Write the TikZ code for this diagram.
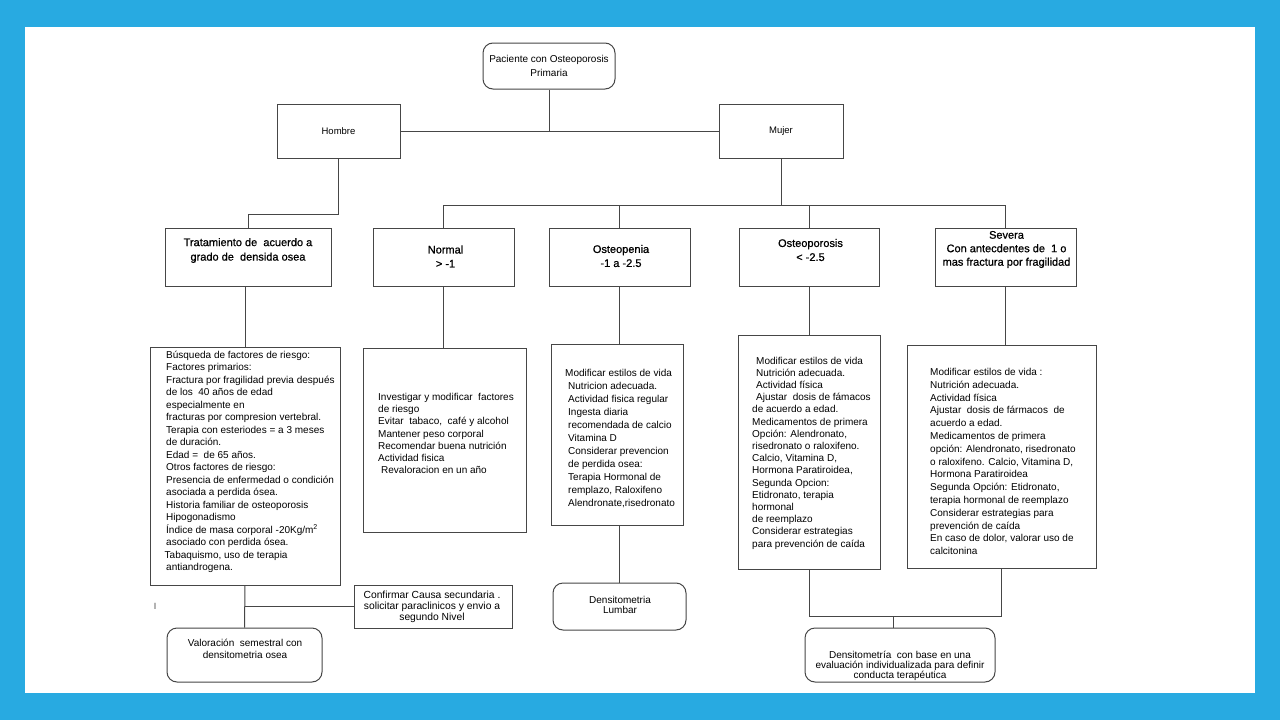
\documentclass[tikz,border=0pt]{standalone}
\usepackage{fontspec}
\setmainfont{Liberation Sans}
\newfontfamily\heavyfont{Liberation Sans}[FakeBold=0.8]
\definecolor{frameblue}{RGB}{40,170,225}
\definecolor{linegray}{RGB}{70,70,70}
\begin{document}
\begin{tikzpicture}[x=1pt,y=-1pt,
  box/.style={draw=linegray, line width=1pt, fill=white, inner sep=0pt},
  rbox/.style={box, rounded corners=10pt},
  conn/.style={draw=linegray, line width=1pt},
  lbl/.style={align=center, inner sep=0pt, font=\heavyfont\fontsize{11}{14}\selectfont},
  small/.style={align=center, inner sep=0pt, font=\fontsize{10}{12}\selectfont},
  body/.style={align=left, inner sep=0pt, anchor=west, font=\fontsize{10}{12}\selectfont}]
\fill[frameblue] (0,0) rectangle (1280,720);
\fill[white] (25,27) rectangle (1255,693);
\useasboundingbox (0,0) rectangle (1280,720);

% top level
\node[rbox, minimum width=132pt, minimum height=46pt, align=center,
      font=\fontsize{10}{14}\selectfont] (pac) at (549,66) {Paciente con Osteoporosis\\Primaria};
\node[box, minimum width=123pt, minimum height=54pt, font=\fontsize{9.5}{12}\selectfont] (hom) at (338.5,131) {\raisebox{-3pt}{Hombre}};
\node[box, minimum width=124pt, minimum height=54pt, font=\fontsize{9.5}{12}\selectfont] (muj) at (781,131) {\raisebox{-1pt}{Mujer}};

% second row boxes
\node[box, minimum width=166pt, minimum height=58pt] (trat) at (248,257) {};
\node[box, minimum width=141pt, minimum height=58pt] (norm) at (443.5,257) {};
\node[box, minimum width=141pt, minimum height=58pt] (open) at (619.5,257) {};
\node[box, minimum width=140pt, minimum height=58pt] (opor) at (809,257) {};
\node[box, minimum width=141pt, minimum height=58pt] (sev) at (1005.5,257) {};

\node[lbl, font=\heavyfont\fontsize{11}{14.5}\selectfont] (tratl) at (248,250.5) {Tratamiento de\ \ acuerdo a\\grado de\ \ densida osea};
\node[lbl] (norml) at (445.5,256.5) {Normal\\> -1};
\node[lbl] (openl) at (621,256) {Osteopenia\\-1 a -2.5};
\node[lbl] (oporl) at (810.5,250) {Osteoporosis\\< -2.5};
\node[lbl, font=\heavyfont\fontsize{11}{13.5}\selectfont] (sevl) at (1006.5,249.5) {Severa\\Con antecdentes de\ \ 1 o\\mas fractura por fragilidad};

% third row text boxes
\node[box, minimum width=190pt, minimum height=238pt] (thom) at (245,466) {};
\node[box, minimum width=163pt, minimum height=184pt] (tnorm) at (444.5,440) {};
\node[box, minimum width=132pt, minimum height=181pt] (topen) at (617,434.5) {};
\node[box, minimum width=142pt, minimum height=234pt] (topor) at (809,452) {};
\node[box, minimum width=189pt, minimum height=223pt] (tsev) at (1001.5,456.5) {};

\node[body, font=\fontsize{10}{12.5}\selectfont] (thomt) at (166,462) {%
B\'usqueda de factores de riesgo:\\
Factores primarios:\\
Fractura por fragilidad previa despu\'es\\
de los\ \ 40 a\~nos de edad\\
especialmente en\\
fracturas por compresion vertebral.\\
Terapia con esteriodes = a 3 meses\\
de duraci\'on.\\
Edad =\ \ de 65 a\~nos.\\
Otros factores de riesgo:\\
Presencia de enfermedad o condici\'on\\
asociada a perdida \'osea.\\
Historia familiar de osteoporosis\\
Hipogonadismo\\
\'Indice de masa corporal -20Kg/m\textsuperscript{2}\\
asociado con perdida \'osea.\\
\hspace*{-1.5pt}Tabaquismo, uso de terapia\\
antiandrogena.};

\node[body, font=\fontsize{10}{12.2}\selectfont] (tnormt) at (378,433.5) {%
Investigar y modificar\ \ factores\\
de riesgo\\
Evitar\ \ tabaco,\ \ caf\'e y alcohol\\
Mantener peso corporal\\
Recomendar buena nutrici\'on\\
Actividad fisica\\
\hspace*{3pt}Revaloracion en un a\~no};

\node[body, font=\fontsize{10}{13}\selectfont] (topent) at (565,439) {%
Modificar estilos de vida\\
\hspace*{3pt}Nutricion adecuada.\\
\hspace*{3pt}Actividad fisica regular\\
\hspace*{3pt}Ingesta diaria\\
\hspace*{3pt}recomendada de calcio\\
\hspace*{3pt}Vitamina D\\
\hspace*{3pt}Considerar prevencion\\
\hspace*{3pt}de perdida osea:\\
\hspace*{3pt}Terapia Hormonal de\\
\hspace*{3pt}remplazo, Raloxifeno\\
\hspace*{3pt}Alendronate,risedronato};

\node[body, font=\fontsize{10}{12.2}\selectfont] (toport) at (752,453) {%
\hspace*{4pt}Modificar estilos de vida\\
\hspace*{4pt}Nutrici\'on adecuada.\\
\hspace*{4pt}Actividad f\'isica\\
\hspace*{4pt}Ajustar\ \ dosis de f\'amacos\\
de acuerdo a edad.\\
Medicamentos de primera\\
Opci\'on: Alendronato,\\
risedronato o raloxifeno.\\
Calcio, Vitamina D,\\
Hormona Paratiroidea,\\
Segunda Opcion:\\
Etidronato, terapia\\
hormonal\\
de reemplazo\\
Considerar estrategias\\
para prevenci\'on de ca\'ida};

\node[body, font=\fontsize{10}{12.8}\selectfont] (tsevt) at (930,461.5) {%
Modificar estilos de vida :\\
Nutrici\'on adecuada.\\
Actividad f\'isica\\
Ajustar\ \ dosis de f\'armacos\ \ de\\
acuerdo a edad.\\
Medicamentos de primera\\
opci\'on: Alendronato, risedronato\\
o raloxifeno. Calcio, Vitamina D,\\
Hormona Paratiroidea\\
Segunda Opci\'on: Etidronato,\\
terapia hormonal de reemplazo\\
Considerar estrategias para\\
prevenci\'on de ca\'ida\\
En caso de dolor, valorar uso de\\
calcitonina};

% bottom row
\node[box, minimum width=158pt, minimum height=43pt] (conf) at (433,606.5) {};
\node[small, font=\fontsize{10.3}{11}\selectfont] (confl) at (432,607) {Confirmar Causa secundaria .\\solicitar paraclinicos y envio a\\segundo Nivel};
\node[rbox, minimum width=155pt, minimum height=54pt] (val) at (244.5,655) {};
\node[small] (vall) at (245,649) {Valoraci\'on\ \ semestral con\\densitometria osea};
\node[rbox, minimum width=133pt, minimum height=47pt] (lumb) at (619.5,606.5) {};
\node[small, font=\fontsize{10}{10}\selectfont] (lumbl) at (620,604.5) {Densitometria\\Lumbar};
\node[rbox, minimum width=190pt, minimum height=54pt] (dens) at (900,655) {};
\node[small, font=\fontsize{10}{10}\selectfont] (densl) at (900,666) {Densitometr\'ia\ \ con base en una\\evaluaci\'on individualizada para definir\\conducta terap\'eutica};
\node[inner sep=0pt, font=\fontsize{9}{10}\selectfont, text=black!70] (stray) at (155,606) {I};

% connectors
\coordinate (bus) at (781,206);
\coordinate (dj) at (893,616);
\draw[conn] (hom.east) -- (muj.west);
\draw[conn] (pac.south) -- (pac.south |- hom.east);
\draw[conn] (hom.south) -- ++(0,56) -| (trat.north);
\draw[conn] (muj.south) -- (bus);
\draw[conn] (norm.north) -- ++(0,-22) -| (sev.north);
\draw[conn] (open.north) -- (open.north |- bus);
\draw[conn] (opor.north) -- (opor.north |- bus);
\draw[conn] (thom.north) -- (thom.north |- trat.south);
\draw[conn] (norm.south) -- (norm.south |- tnorm.north);
\draw[conn] (open.south) -- (open.south |- topen.north);
\draw[conn] (opor.south) -- (topor.north);
\draw[conn] (sev.south) -- (sev.south |- tsev.north);
\draw[conn] (thom.south) -- (val.north);
\draw[conn] (conf.west) -- (conf.west -| thom.south);
\draw[conn] (lumb.north) -- (lumb.north |- topen.south);
\draw[conn] (topor.south) -- ++(0,47) -| (tsev.south);
\draw[conn] (dj) -- (dj |- dens.north);
\end{tikzpicture}
\end{document}
